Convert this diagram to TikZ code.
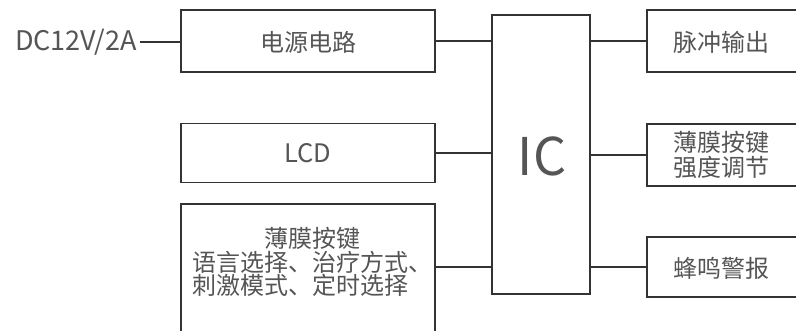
\documentclass[tikz,border=0pt]{standalone}
\usepackage{fontspec}
\setmainfont{Noto Sans CJK SC}
\definecolor{linegray}{HTML}{333333}
\definecolor{textgray}{HTML}{555555}
\begin{document}
\begin{tikzpicture}[x=1pt,y=-1pt,
  box/.style={draw=linegray,line width=1.6pt,rectangle,inner sep=0pt,fill=white},
  txt/.style={text=textgray,inner sep=0pt,font=\fontsize{24}{21}\selectfont,align=center},
  conn/.style={draw=linegray,line width=1.6pt}]
\useasboundingbox (0,0) rectangle (796,331);
\clip (0,0) rectangle (796,331);
% left boxes
\node[box,minimum width=254pt,minimum height=62pt] (pwr) at (308,41) {};
\node[box,minimum width=254pt,minimum height=59pt] (lcd) at (308,153) {};
\node[box,minimum width=254pt,minimum height=160pt] (keys) at (308,284) {};
% IC
\node[box,minimum width=98pt,minimum height=279pt] (ic) at (541,154.5) {};
% right boxes
\node[box,minimum width=210pt,minimum height=62pt] (out) at (752,41) {};
\node[box,minimum width=210pt,minimum height=62pt] (str) at (752,155) {};
\node[box,minimum width=210pt,minimum height=60pt] (buz) at (752,267) {};
% texts
\node[txt,font=\fontsize{27}{27}\selectfont] (dc) at (76,42) {DC12V/2A};
\node[txt] (pwrt) at (308,42) {电源电路};
\node[txt,font=\fontsize{25.5}{25.5}\selectfont] (lcdt) at (308,153) {LCD};
\node[txt,font=\fontsize{24}{20.7}\selectfont] (keyst) at (312,262) {薄膜按键\\语言选择、治疗方式、\\刺激模式、定时选择　};
\node[txt,font=\fontsize{52}{52}\selectfont] (ict) at (542,156) {IC};
\node[txt] (outt) at (721,42) {脉冲输出};
\node[txt,font=\fontsize{24}{25}\selectfont] (strt) at (721,155) {薄膜按键\\强度调节};
\node[txt] (buzt) at (721,268) {蜂鸣警报};
% connectors
\draw[conn] ([xshift=3pt]dc.east) -- (pwr.west |- dc.east);
\draw[conn] (pwr.east) -- (pwr.east -| ic.west);
\draw[conn] (lcd.east) -- (lcd.east -| ic.west);
\draw[conn] (keys.east |- buz) -- (ic.west |- buz);
\draw[conn] (ic.east |- out) -- (out.west);
\draw[conn] (ic.east |- str) -- (str.west);
\draw[conn] (ic.east |- buz) -- (buz.west);
\end{tikzpicture}
\end{document}
